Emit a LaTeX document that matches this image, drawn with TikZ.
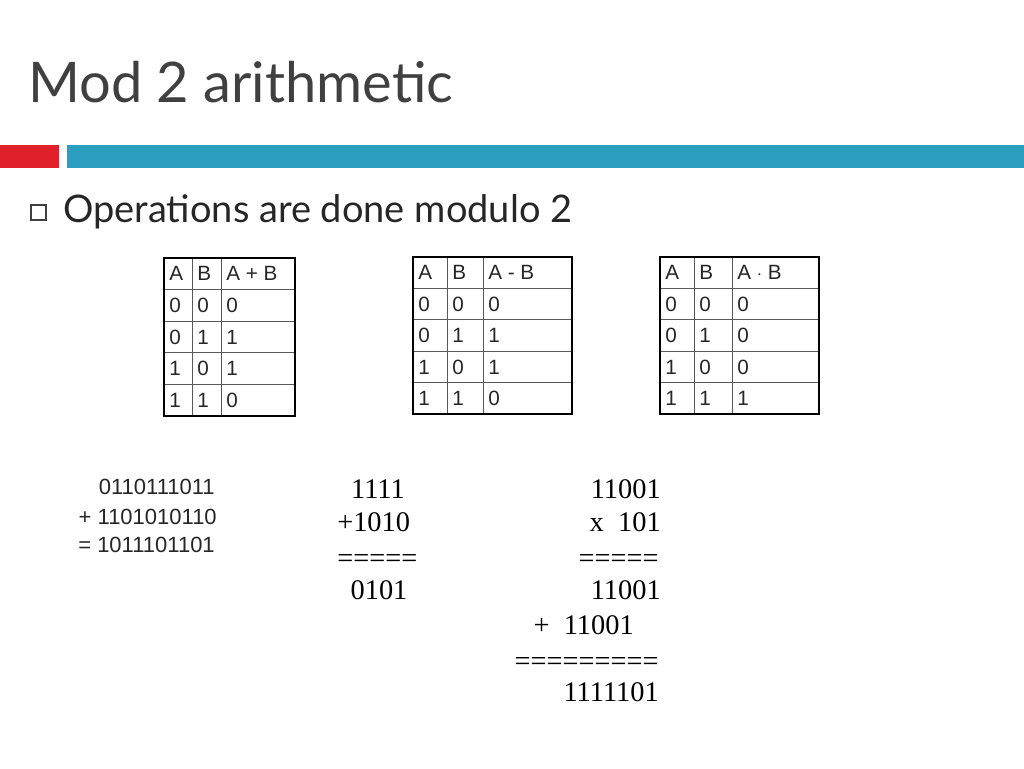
\documentclass[tikz,border=0pt]{standalone}
\usepackage{fontspec}
\setmainfont{Liberation Serif}
\newfontfamily\slidefont{Lato}
\newfontfamily\arial{Liberation Sans}
\definecolor{titlegray}{HTML}{404040}
\definecolor{barred}{HTML}{E0202B}
\definecolor{barblue}{HTML}{2A9FBF}
\begin{document}
\begin{tikzpicture}[x=0.75pt,y=-0.75pt,
  tcell/.style={font=\arial\fontsize{15.5}{15.5}\selectfont,anchor=west,inner sep=0pt,text=black!85},
  mathtxt/.style={font=\fontsize{21.3}{21.3}\selectfont,inner sep=0pt},
  sumtxt/.style={font=\arial\fontsize{16.5}{16.5}\selectfont,inner sep=0pt,anchor=east,text=black!85}]
\useasboundingbox (0,0) rectangle (1024,768);
\node[anchor=base west,inner sep=0pt,text=titlegray,font=\slidefont\fontsize{42}{42}\selectfont] (title) at (28,102) {Mod 2 arithmetic};
\fill[barred] (0,145) rectangle (59,168);
\fill[barblue] (67,145) rectangle (1024,168);
\draw[titlegray,line width=0.8pt] (31,205) rectangle (46,220);
\node[anchor=west,inner sep=0pt,font=\slidefont\fontsize{28.5}{28.5}\selectfont,text=black!85] (bullet) at (63,212) {Operations are done modulo 2};
% tables
\def\truthtable#1#2#3#4#5#6#7#8#9{%
  \begin{scope}[shift={(#1,#2)}]
  \foreach \yy in {1,2,3,4} \draw[gray!70!black,line width=0.6pt] (0,\yy*#5/5) -- (#4,\yy*#5/5);
  \draw[gray!70!black,line width=0.6pt] (#6,0) -- (#6,#5) (#7,0) -- (#7,#5);
  \draw[black,line width=2.2pt] (0,0) rectangle (#4,#5);
  \node[tcell] at (5,0.5*#5/5) {A};
  \node[tcell] at (#6+5,0.5*#5/5) {B};
  \node[tcell] at (#7+5,0.5*#5/5) {#3};
  \foreach \r/\a/\b [count=\i] in {#8} {
    \node[tcell] at (5,{(\i+0.5)*#5/5}) {\a};
    \node[tcell] at (#6+5,{(\i+0.5)*#5/5}) {\b};
  }
  \foreach \c [count=\i] in {#9} \node[tcell] at (#7+5,{(\i+0.5)*#5/5}) {\c};
  \end{scope}}
\truthtable{164}{258}{A + B}{131}{158}{28}{57}{x/0/0,x/0/1,x/1/0,x/1/1}{0,1,1,0}
\truthtable{413}{257}{A - B}{159}{157}{34}{70}{x/0/0,x/0/1,x/1/0,x/1/1}{0,1,1,0}
\truthtable{660}{257}{A $\cdot$ B}{159}{157}{34}{72}{x/0/0,x/0/1,x/1/0,x/1/1}{0,0,0,1}
% left sum
\node[sumtxt] (s1) at (215,487) {0110111011};
\node[sumtxt] (s2) at (217,517) {+ 1101010110};
\node[sumtxt] (s3) at (215,545) {= 1011101101};
% middle
\node[mathtxt] (m1) at (378,489) {1111};
\node[mathtxt,anchor=west] (m2) at (337,522) {+1010};
\node[mathtxt,anchor=west] (m3) at (337,561) {=====};
\node[mathtxt] (m4) at (379,590) {0101};
% right
\node[mathtxt,anchor=east] (r1) at (661,489) {11001};
\node[mathtxt,anchor=east] (r2) at (661,522) {x\ \ 101};
\node[mathtxt,anchor=east] (r3) at (659,561) {=====};
\node[mathtxt,anchor=east] (r4) at (661,590) {11001};
\node[mathtxt,anchor=east] (r5) at (634,625) {+\ \ 11001};
\node[mathtxt,anchor=east] (r6) at (659,664) {=========};
\node[mathtxt,anchor=east] (r7) at (659,692) {1111101};
\end{tikzpicture}
\end{document}
